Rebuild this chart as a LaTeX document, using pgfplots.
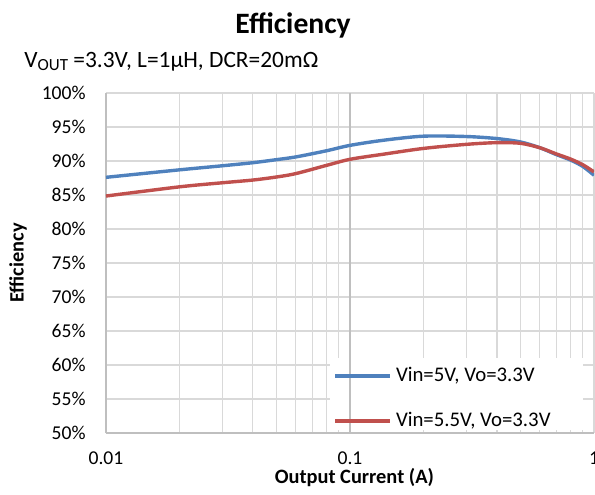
\documentclass[border=0pt]{standalone}
\usepackage{fontspec}
\setmainfont{Carlito}
\usepackage{pgfplots}
\pgfplotsset{compat=1.18}
\usepackage{pgfplotstable}
\definecolor{sblue}{HTML}{4F81BD}
\definecolor{sred}{HTML}{C0504D}
\definecolor{gridlight}{HTML}{D9D9D9}
\definecolor{axisgray}{HTML}{BFBFBF}

\pgfplotstableread{
x y
0.01 87.6
0.02 88.7
0.03 89.3
0.04 89.75
0.05 90.2
0.06 90.6
0.08 91.5
0.1 92.3
0.137 93.05
0.2 93.65
0.3 93.6
0.4 93.3
0.5 92.8
0.6 91.95
0.7 90.95
0.8 90.15
0.9 89.2
1.0 87.9
}\bluedata

\pgfplotstableread{
x y
0.01 84.85
0.02 86.2
0.03 86.8
0.04 87.2
0.05 87.65
0.06 88.15
0.08 89.35
0.1 90.25
0.137 91.0
0.2 91.85
0.3 92.45
0.4 92.7
0.5 92.6
0.6 91.95
0.7 91.05
0.8 90.3
0.9 89.45
1.0 88.4
}\reddata

\begin{document}
\begin{tikzpicture}
\begin{axis}[
  at={(0pt,0pt)}, anchor=south west,
  scale only axis,
  width=244pt, height=170pt,
  xmode=log,
  xmin=0.01, xmax=1,
  ymin=50, ymax=100,
  axis lines*=left,
  axis line style={-, draw=axisgray, line width=0.9pt},
  xtick={0.01,0.1,1},
  xticklabels={0.01,0.1,1},
  minor xtick={0.02,0.03,0.04,0.05,0.06,0.07,0.08,0.09,0.2,0.3,0.4,0.5,0.6,0.7,0.8,0.9},
  extra x ticks={0.1},
  extra x tick labels={},
  extra x tick style={grid=major, major grid style={draw=axisgray, line width=0.9pt}},
  ytick={50,55,60,65,70,75,80,85,90,95,100},
  yticklabels={50\%,55\%,60\%,65\%,70\%,75\%,80\%,85\%,90\%,95\%,100\%},
  major tick length=0pt, minor tick length=0pt,
  xmajorgrids, xminorgrids, ymajorgrids,
  major grid style={draw=gridlight, line width=0.6pt},
  minor grid style={draw=gridlight, line width=0.6pt},
  tick label style={font=\fontsize{9.8}{12}\selectfont, text=black},
  xticklabel style={anchor=north, inner sep=0pt, yshift=-9.3pt},
  yticklabel style={anchor=east, inner sep=0pt, xshift=-10pt},
  xlabel={Output Current (A)},
  ylabel={Efficiency},
  every axis x label/.style={at={(axis description cs:0.509,-0.148)}, anchor=base, font=\bfseries\fontsize{10.2}{12}\selectfont},
  every axis y label/.style={at={(axis description cs:-0.18,0.5)}, rotate=90, anchor=center, font=\bfseries\fontsize{10.2}{12}\selectfont},
  legend cell align=left,
  legend style={at={(axis description cs:0.4529,-0.0147)}, anchor=south west, draw=none, fill=none,
    font=\fontsize{10.4}{12}\selectfont, row sep=9.7pt},
  legend image code/.code={\draw[#1, line width=1.8pt] (0pt,0pt) -- (27.5pt,0pt);},
]
\fill[white] (axis description cs:0.459,0.008) rectangle (axis description cs:0.977,0.22);
\draw[axisgray, line width=0.9pt] (axis cs:0.1,50) -- (axis cs:0.1,100);
\addplot[sblue, line width=1.7pt, smooth] table[x=x, y=y] {\bluedata};
\addlegendentry{Vin=5V, Vo=3.3V}
\addplot[sred, line width=1.7pt, smooth] table[x=x, y=y] {\reddata};
\addlegendentry{Vin=5.5V, Vo=3.3V}
\end{axis}
\node[anchor=base, font=\bfseries\fontsize{14.8}{17}\selectfont] at (93.5pt,200pt) {Efficiency};
\node[anchor=base west, inner sep=0pt, font=\fontsize{11.7}{14}\selectfont] at (-41pt,182.5pt) {V{\fontsize{8.5}{10}\selectfont\raisebox{-1.2pt}{OUT}} =3.3V, L=1µH, DCR=20mΩ};
\pgfresetboundingbox
\path[use as bounding box] (-53pt,-30.5pt) rectangle (244.5pt,216.5pt);
\end{tikzpicture}
\end{document}
